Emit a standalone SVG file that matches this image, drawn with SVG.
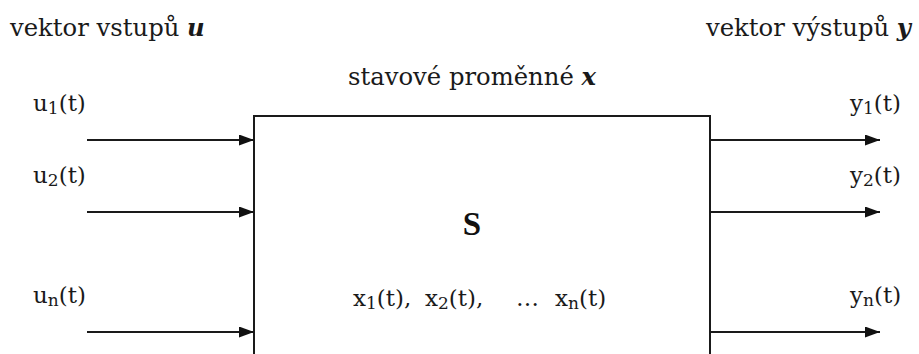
<svg xmlns="http://www.w3.org/2000/svg" width="919" height="354" viewBox="0 0 919 354">
  <style>
    .t { font-family: "DejaVu Serif", "Liberation Serif", serif; font-size: 23px; fill: #1a1a1a; }
    .h { font-size: 24.3px; }
    .bi { font-weight: bold; font-style: italic; }
    .sub { font-size: 17px; }
    .big { font-family: "Liberation Serif", "Times New Roman", serif; font-size: 33px; font-weight: bold; fill: #111; }
    .ln { stroke: #1a1a1a; stroke-width: 2; fill: none; }
  </style>
  <defs>
    <marker id="ah" markerWidth="15" markerHeight="11" refX="15" refY="5.5" orient="auto" markerUnits="userSpaceOnUse">
      <polygon points="0,0 15,5.5 0,11" fill="#111"/>
    </marker>
  </defs>
  <rect width="919" height="354" fill="#fff"/>

  <g id="labels">
    <text class="t h" x="10" y="36">vektor vstupů <tspan class="bi">u</tspan></text>
    <text class="t h" x="706" y="36">vektor výstupů <tspan class="bi">y</tspan></text>
  </g>

  <g id="system">
    <path class="ln" d="M254,360 V116 H710 V360"/>
    <text class="t h" x="348" y="85">stavové proměnné <tspan class="bi">x</tspan></text>
    <text class="big" x="472" y="235" text-anchor="middle">S</text>
    <text class="t" y="306"><tspan x="353">x</tspan><tspan class="sub" dy="3">1</tspan><tspan dy="-3">(t),</tspan><tspan x="425">x</tspan><tspan class="sub" dy="3">2</tspan><tspan dy="-3">(t),</tspan><tspan x="516">…</tspan><tspan x="555">x</tspan><tspan class="sub" dy="3">n</tspan><tspan dy="-3">(t)</tspan></text>
  </g>

  <g id="inputs">
    <text class="t" x="33" y="111">u<tspan class="sub" dy="3">1</tspan><tspan dy="-3">(t)</tspan></text>
    <text class="t" x="33" y="183">u<tspan class="sub" dy="3">2</tspan><tspan dy="-3">(t)</tspan></text>
    <text class="t" x="33" y="303">u<tspan class="sub" dy="3">n</tspan><tspan dy="-3">(t)</tspan></text>
  </g>

  <g id="outputs">
    <text class="t" x="850" y="111">y<tspan class="sub" dy="3">1</tspan><tspan dy="-3">(t)</tspan></text>
    <text class="t" x="850" y="183">y<tspan class="sub" dy="3">2</tspan><tspan dy="-3">(t)</tspan></text>
    <text class="t" x="850" y="303">y<tspan class="sub" dy="3">n</tspan><tspan dy="-3">(t)</tspan></text>
  </g>

  <g id="connectors">
    <line class="ln" x1="87" y1="140" x2="254" y2="140" marker-end="url(#ah)"/>
    <line class="ln" x1="87" y1="212" x2="254" y2="212" marker-end="url(#ah)"/>
    <line class="ln" x1="87" y1="332" x2="254" y2="332" marker-end="url(#ah)"/>
    <line class="ln" x1="710" y1="140" x2="880" y2="140" marker-end="url(#ah)"/>
    <line class="ln" x1="710" y1="212" x2="880" y2="212" marker-end="url(#ah)"/>
    <line class="ln" x1="710" y1="332" x2="880" y2="332" marker-end="url(#ah)"/>
  </g>
</svg>
